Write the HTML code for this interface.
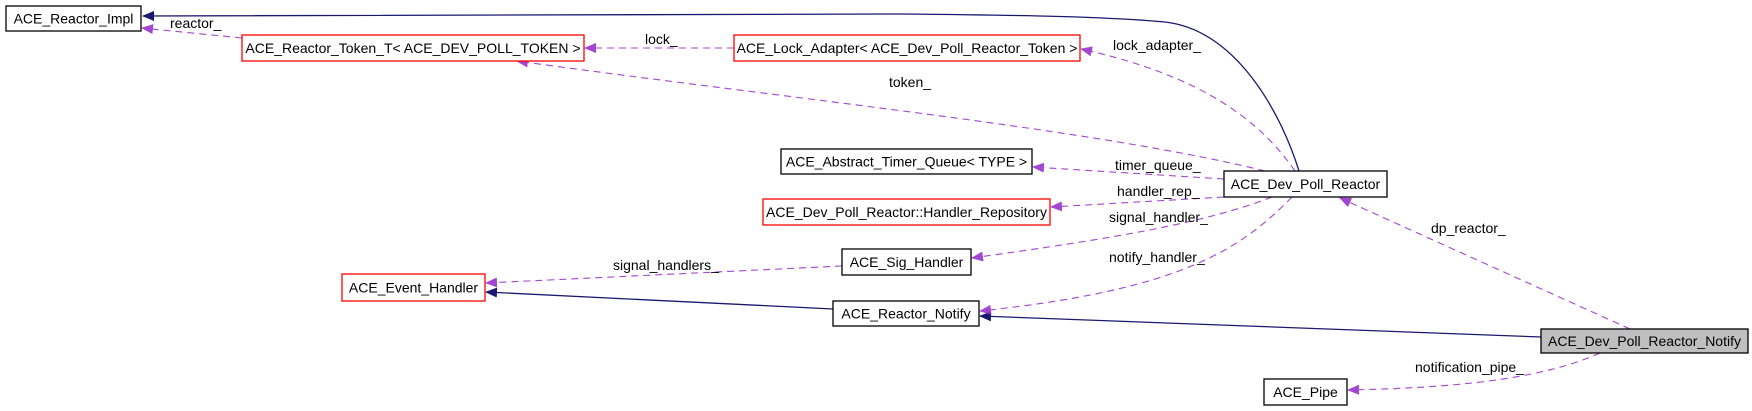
<!DOCTYPE html>
<html><head><meta charset="utf-8"><style>
html,body{margin:0;padding:0;background:#fff;}
svg{display:block;}
text{font-family:"Liberation Sans",Arial,sans-serif;font-size:14px;fill:#000;}
.n text{text-anchor:middle;}
</style></head><body>
<svg width="1752" height="411" viewBox="0 0 1752 411" xmlns="http://www.w3.org/2000/svg">
<defs>
<marker id="ap" markerWidth="12" markerHeight="10" refX="11" refY="5" orient="auto" markerUnits="userSpaceOnUse"><path d="M0,0 L12,5 L0,10 z" fill="#9a32cd"/></marker>
<marker id="an" markerWidth="12" markerHeight="10" refX="11" refY="5" orient="auto" markerUnits="userSpaceOnUse"><path d="M0,0 L12,5 L0,10 z" fill="#191970"/></marker>
</defs>
<g fill="none" stroke="#191970" stroke-width="1.3">
<path d="M1299,171 C1280,110 1235,30 1165,22 C1100,16 1000,15 900,14 L143,16" marker-end="url(#an)"/>
<path d="M833,309 L486,292" marker-end="url(#an)"/>
<path d="M1541,337 L980,316" marker-end="url(#an)"/>
</g>
<g fill="none" stroke="#9a32cd" stroke-width="1.1" stroke-dasharray="7,5" opacity="0.9">
<path d="M242,38 L142,28" marker-end="url(#ap)"/>
<path d="M734,48 L585,48" marker-end="url(#ap)"/>
<path d="M1295,171 C1260,120 1200,75 1081,49" marker-end="url(#ap)"/>
<path d="M1265,171 C1100,130 800,100 517,61" marker-end="url(#ap)"/>
<path d="M1224,179 L1033,167" marker-end="url(#ap)"/>
<path d="M1224,197 L1051,207" marker-end="url(#ap)"/>
<path d="M1272,197 C1200,225 1100,240 972,258" marker-end="url(#ap)"/>
<path d="M842,266 L486,283" marker-end="url(#ap)"/>
<path d="M1292,197 C1240,250 1180,290 980,311" marker-end="url(#ap)"/>
<path d="M1630,329 L1340,198" marker-end="url(#ap)"/>
<path d="M1600,353 C1540,380 1450,388 1348,390" marker-end="url(#ap)"/>
</g>
<g>
<text x="170" y="28">reactor_</text>
<text x="645" y="44">lock_</text>
<text x="1113" y="50">lock_adapter_</text>
<text x="889" y="87">token_</text>
<text x="1115" y="170">timer_queue_</text>
<text x="1117" y="196">handler_rep_</text>
<text x="1109" y="222">signal_handler_</text>
<text x="613" y="270">signal_handlers_</text>
<text x="1109" y="262">notify_handler_</text>
<text x="1431" y="233">dp_reactor_</text>
<text x="1415" y="372">notification_pipe_</text>
</g>
<g class="n" stroke-width="1.3">
<rect x="6" y="6" width="135" height="25" fill="#fff" stroke="#000"/><text x="73.5" y="23.5">ACE_Reactor_Impl</text>
<rect x="242" y="35" width="342" height="26" fill="#fff" stroke="#ff0000"/><text x="413" y="53">ACE_Reactor_Token_T&lt; ACE_DEV_POLL_TOKEN &gt;</text>
<rect x="734" y="35" width="346" height="26" fill="#fff" stroke="#ff0000"/><text x="907" y="53">ACE_Lock_Adapter&lt; ACE_Dev_Poll_Reactor_Token &gt;</text>
<rect x="781" y="149" width="251" height="25" fill="#fff" stroke="#000"/><text x="906.5" y="166.5">ACE_Abstract_Timer_Queue&lt; TYPE &gt;</text>
<rect x="763" y="199" width="287" height="26" fill="#fff" stroke="#ff0000"/><text x="906.5" y="217">ACE_Dev_Poll_Reactor::Handler_Repository</text>
<rect x="842" y="249" width="129" height="26" fill="#fff" stroke="#000"/><text x="906.5" y="267">ACE_Sig_Handler</text>
<rect x="342" y="274" width="143" height="27" fill="#fff" stroke="#ff0000"/><text x="413.5" y="292.5">ACE_Event_Handler</text>
<rect x="833" y="301" width="146" height="25" fill="#fff" stroke="#000"/><text x="906" y="318.5">ACE_Reactor_Notify</text>
<rect x="1224" y="171" width="163" height="26" fill="#fff" stroke="#000"/><text x="1305.5" y="189">ACE_Dev_Poll_Reactor</text>
<rect x="1541" y="329" width="207" height="24" fill="#bfbfbf" stroke="#000"/><text x="1644.5" y="346">ACE_Dev_Poll_Reactor_Notify</text>
<rect x="1264" y="379" width="83" height="26" fill="#fff" stroke="#000"/><text x="1305.5" y="397">ACE_Pipe</text>
</g>
</svg>
</body></html>
